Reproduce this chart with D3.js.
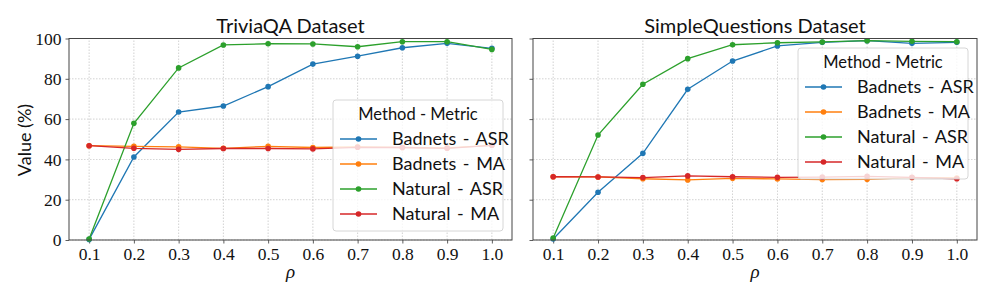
<!DOCTYPE html>
<html>
<head>
<meta charset="utf-8">
<script src="https://cdn.jsdelivr.net/npm/d3@7"></script>
<style>
  body { margin: 0; background: #fff; }
  svg text { fill: #111; }
</style>
</head>
<body>
<div id="chart"></div>
<script>

// x values (rho)
const rhos = [0.1, 0.2, 0.3, 0.4, 0.5, 0.6, 0.7, 0.8, 0.9, 1.0];
const yTicks = [0, 20, 40, 60, 80, 100];
const seriesNames = ["Badnets - ASR", "Badnets - MA", "Natural - ASR", "Natural - MA"];
const colors = ["#1f77b4", "#ff7f0e", "#2ca02c", "#d62728"];

// TriviaQA
const trivia_badnets_asr = [0.3, 41.2, 63.5, 66.5, 76.1, 87.3, 91.2, 95.4, 97.6, 95.1];
const trivia_badnets_ma  = [46.8, 46.5, 46.2, 45.5, 46.5, 45.9, 46.2, 45.9, 45.7, 47.0];
const trivia_natural_asr = [0.5, 57.9, 85.4, 96.8, 97.4, 97.3, 95.9, 98.4, 98.4, 94.6];
const trivia_natural_ma  = [46.8, 45.5, 45.0, 45.4, 45.4, 45.2, 46.0, 45.9, 45.5, 47.0];

// SimpleQuestions
const sq_badnets_asr = [0.5, 23.7, 43.0, 74.8, 88.8, 96.3, 98.1, 98.9, 97.6, 98.1];
const sq_badnets_ma  = [31.4, 31.3, 30.4, 29.8, 30.6, 30.3, 30.0, 30.1, 31.0, 30.8];
const sq_natural_asr = [1.0, 52.1, 77.3, 90.0, 96.9, 97.9, 98.3, 98.9, 98.6, 98.4];
const sq_natural_ma  = [31.4, 31.3, 31.0, 31.8, 31.4, 31.1, 31.2, 31.6, 31.1, 30.4];

const W = 996, H = 299;
const svg = d3.select("#chart").append("svg")
    .attr("width", W).attr("height", H);

const serif = "'Liberation Serif', serif";
const sans = "Lato, 'Open Sans', sans-serif";

function panel(opts) {
    const g = svg.append("g");
    const x = d3.scaleLinear()
        .domain([0.055, 1.045])
        .range([opts.left, opts.right]);
    const y = d3.scaleLinear()
        .domain([0, 100])
        .range([240, 38.5]);

    // grid
    g.append("g").selectAll("line.vx")
        .data(rhos).enter().append("line")
        .attr("x1", d => x(d)).attr("x2", d => x(d))
        .attr("y1", y(0)).attr("y2", y(100))
        .attr("stroke", "#b0b0b0").attr("stroke-width", 0.8)
        .attr("stroke-dasharray", "1.5,1.5").attr("opacity", 0.7);
    g.append("g").selectAll("line.hy")
        .data(yTicks).enter().append("line")
        .attr("x1", opts.left).attr("x2", opts.right)
        .attr("y1", d => y(d)).attr("y2", d => y(d))
        .attr("stroke", "#b0b0b0").attr("stroke-width", 0.8)
        .attr("stroke-dasharray", "1.5,1.5").attr("opacity", 0.7);

    // axes
    const xa = g.append("g")
        .attr("transform", "translate(0,240)")
        .call(d3.axisBottom(x).tickValues(rhos).tickFormat(d3.format(".1f")).tickSize(3.5).tickPadding(4));
    const ya = g.append("g")
        .attr("transform", "translate(" + opts.left + ",0)")
        .call(d3.axisLeft(y).tickValues(yTicks).tickSize(3.5).tickPadding(4)
            .tickFormat(opts.yLabels ? d3.format("d") : ""));
    [xa, ya].forEach(a => {
        a.select(".domain").remove();
        a.selectAll("line").attr("stroke", "#333").attr("stroke-width", 0.8);
        a.selectAll("text").attr("font-family", serif).attr("font-size", 17.5).attr("fill", "#111");
    });

    const line = d3.line()
        .x((d, i) => x(rhos[i]))
        .y(d => y(d));

    opts.series.forEach((vals, k) => {
        g.append("path")
            .datum(vals)
            .attr("d", line)
            .attr("fill", "none")
            .attr("stroke", colors[k])
            .attr("stroke-width", 1.3);
        g.selectAll(null)
            .data(vals).enter().append("circle")
            .attr("cx", (d, i) => x(rhos[i]))
            .attr("cy", d => y(d))
            .attr("r", 2.8)
            .attr("fill", colors[k]);
    });

    // frame
    g.append("rect")
        .attr("x", opts.left).attr("y", y(100))
        .attr("width", opts.right - opts.left).attr("height", y(0) - y(100))
        .attr("fill", "none").attr("stroke", "#444").attr("stroke-width", 1);

    // title
    g.append("text")
        .attr("x", (opts.left + opts.right) / 2).attr("y", 33)
        .attr("text-anchor", "middle")
        .attr("font-family", sans).attr("font-size", 20)
        .text(opts.title);

    // x label
    g.append("text")
        .attr("x", (opts.left + opts.right) / 2).attr("y", 278)
        .attr("text-anchor", "middle")
        .attr("font-family", serif).attr("font-style", "italic").attr("font-size", 19)
        .text("ρ");

    // legend
    const lg = g.append("g")
        .attr("transform", "translate(" + opts.legX + "," + opts.legY + ")");
    lg.append("rect")
        .attr("width", 170).attr("height", 131).attr("rx", 3)
        .attr("fill", "#fff").attr("fill-opacity", 0.8)
        .attr("stroke", "#ccc").attr("stroke-width", 0.8);
    lg.append("text")
        .attr("x", 85).attr("y", 20)
        .attr("text-anchor", "middle")
        .attr("font-family", sans).attr("font-size", 16.5)
        .text("Method - Metric");
    seriesNames.forEach((name, k) => {
        const yy = 39 + k * 25;
        lg.append("line")
            .attr("x1", 7).attr("x2", 44)
            .attr("y1", yy).attr("y2", yy)
            .attr("stroke", colors[k]).attr("stroke-width", 1.3);
        lg.append("circle")
            .attr("cx", 25.5).attr("cy", yy).attr("r", 2.8)
            .attr("fill", colors[k]);
        lg.append("text")
            .attr("x", 59).attr("y", yy + 6)
            .attr("font-family", sans).attr("font-size", 18)
            .attr("word-spacing", 2)
            .text(name);
    });
}

panel({
    left: 69, right: 512, title: "TriviaQA Dataset", yLabels: true,
    series: [trivia_badnets_asr, trivia_badnets_ma, trivia_natural_asr, trivia_natural_ma],
    legX: 333, legY: 100
});
panel({
    left: 533, right: 977, title: "SimpleQuestions Dataset", yLabels: false,
    series: [sq_badnets_asr, sq_badnets_ma, sq_natural_asr, sq_natural_ma],
    legX: 798, legY: 48
});

// y label
svg.append("text")
    .attr("transform", "translate(31,140) rotate(-90)")
    .attr("text-anchor", "middle")
    .attr("font-family", sans).attr("font-size", 18)
    .text("Value (%)");

</script>
</body>
</html>
